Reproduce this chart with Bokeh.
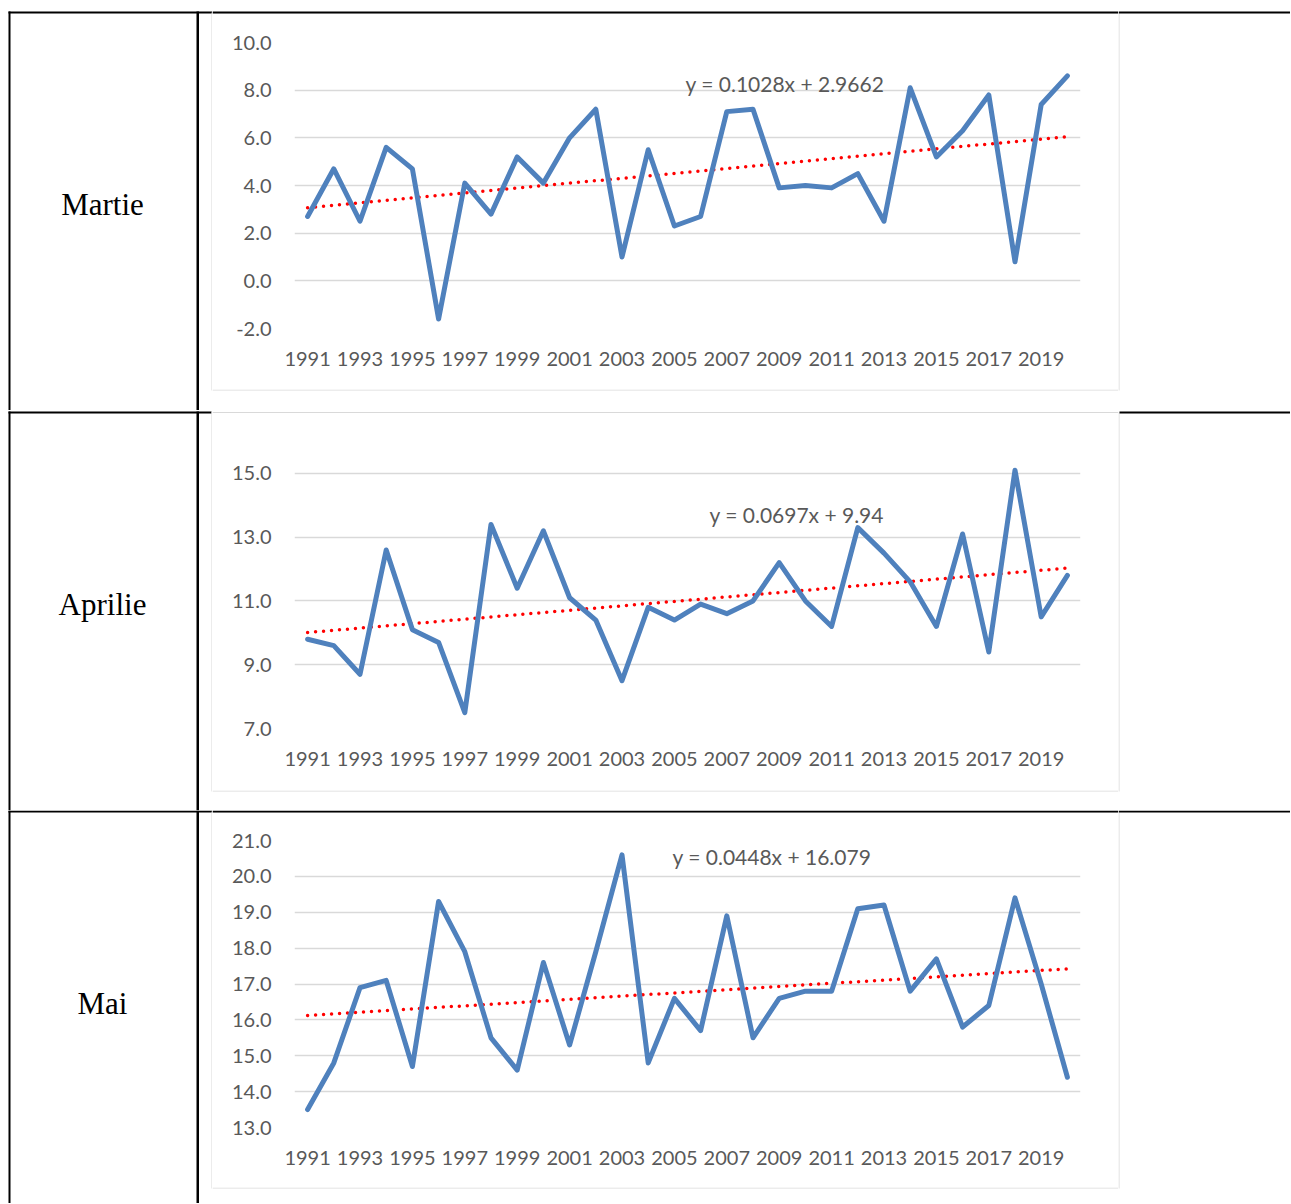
from bokeh.plotting import figure
from bokeh.models import Range1d, FixedTicker, NumeralTickFormatter, Label
from bokeh.layouts import column, row
from bokeh.core.properties import value
from bokeh.embed import file_html
from bokeh.resources import INLINE

# ---------------- data ----------------
years = list(range(1991, 2021))
year_ticks = years[::2]

months = ["Martie", "Aprilie", "Mai"]

martie = [2.7, 4.7, 2.5, 5.6, 4.7, -1.6, 4.1, 2.8, 5.2, 4.1,
          6.0, 7.2, 1.0, 5.5, 2.3, 2.7, 7.1, 7.2, 3.9, 4.0,
          3.9, 4.5, 2.5, 8.1, 5.2, 6.3, 7.8, 0.8, 7.4, 8.6]
aprilie = [9.8, 9.6, 8.7, 12.6, 10.1, 9.7, 7.5, 13.4, 11.4, 13.2,
           11.1, 10.4, 8.5, 10.8, 10.4, 10.9, 10.6, 11.0, 12.2, 11.0,
           10.2, 13.3, 12.5, 11.6, 10.2, 13.1, 9.4, 15.1, 10.5, 11.8]
mai = [13.5, 14.8, 16.9, 17.1, 14.7, 19.3, 17.9, 15.5, 14.6, 17.6,
       15.3, 17.9, 20.6, 14.8, 16.6, 15.7, 18.9, 15.5, 16.6, 16.8,
       16.8, 19.1, 19.2, 16.8, 17.7, 15.8, 16.4, 19.4, 17.0, 14.4]

slopes = [0.1028, 0.0697, 0.0448]
intercepts = [2.9662, 9.94, 16.079]
equations = ["y = 0.1028x + 2.9662", "y = 0.0697x + 9.94", "y = 0.0448x + 16.079"]

y_ticks_martie = [-2, 0, 2, 4, 6, 8, 10]
y_ticks_aprilie = [7, 9, 11, 13, 15]
y_ticks_mai = [13, 14, 15, 16, 17, 18, 19, 20, 21]
y_limits = [(-2, 10), (7, 16), (13, 21)]

series = [martie, aprilie, mai]
y_ticks = [y_ticks_martie, y_ticks_aprilie, y_ticks_mai]

# ---------------- layout (page pixel coordinates) ----------------
W = 1290
LEFT_W = 212            # table label column + left edge of chart box
MID_X0, MID_X1 = 212, 1118
FX0, FX1 = 294, 1080    # plot area
rows = [
    dict(top=0, bottom=410, ctop=25, cbot=389, ftop=42, fbot=328, btop=12, bbot=390,
         lab=204, eqx=685, eqy=82.5, ly=11, cover=False),
    dict(top=410, bottom=810, ctop=425, cbot=790, ftop=441, fbot=728, btop=411.5, bbot=791,
         lab=603.5, eqx=709, eqy=514.3, ly=411, cover=True),
    dict(top=810, bottom=1203, ctop=825, cbot=1187, ftop=840, fbot=1127, btop=811, bbot=1188,
         lab=1003, eqx=672, eqy=856.3, ly=810, cover=False),
]
TABLE_X0 = 8
LEFT_LINE = (8, 10)
DIV_LINE = (196, 198.5)

BLUE = "#4F81BD"
RED = "#FF0000"
GRID = "#D9D9D9"
TXT = "#595959"
FONT = "Lato"


def deco(x0, x1, y0, y1):
    """A figure whose frame is its whole canvas, in page pixel coordinates (y down)."""
    f = figure(width=x1 - x0, height=y1 - y0, output_backend="svg", toolbar_location=None,
               x_range=Range1d(x0, x1), y_range=Range1d(y1, y0),
               x_axis_type=None, y_axis_type=None, frame_align=False,
               min_border=0, min_border_left=0, min_border_right=0, min_border_top=0, min_border_bottom=0,
               outline_line_color=None, border_fill_color="white", background_fill_color="white")
    f.grid.visible = False
    return f


def bar(f, x0, x1, y0, y1, color):
    f.quad(left=[x0], right=[x1], top=[y0], bottom=[y1], fill_color=color, line_color=None)


rows_layout = []
for k in range(3):
    r = rows[k]

    # ---- left cell: table borders, month name, left edge of chart box
    left = deco(0, LEFT_W, r["top"], r["bottom"])
    bar(left, TABLE_X0, 211 if r["cover"] else LEFT_W, r["ly"], r["ly"] + 2, "black")
    bar(left, LEFT_LINE[0], LEFT_LINE[1], r["ly"], r["bottom"], "black")
    bar(left, DIV_LINE[0], DIV_LINE[1], r["ly"], r["bottom"], "black")
    bar(left, 211, 212, r["btop"], r["bbot"], GRID)
    left.text(x=[102], y=[r["lab"]], text=[months[k]], text_align="center", text_baseline="alphabetic",
              text_font=value("Liberation Serif"), text_font_size=value("31px"), text_color="black")

    # ---- right part: right edge of chart box, table line continuing
    right = deco(MID_X1, W, r["top"], r["bottom"])
    bar(right, MID_X1, MID_X1 + 1, r["btop"], r["bbot"], GRID)
    bar(right, MID_X1 + 1 if r["cover"] else MID_X1, W, r["ly"], r["ly"] + 2, "black")

    # ---- top strip of chart cell
    top = deco(MID_X0, MID_X1, r["top"], r["ctop"])
    bar(top, MID_X0, MID_X1, r["btop"], r["btop"] + 1, GRID)
    if not r["cover"]:
        bar(top, MID_X0, MID_X1, r["ly"], r["ly"] + 2, "black")

    # ---- bottom strip of chart cell
    bot = deco(MID_X0, MID_X1, r["cbot"], r["bottom"])
    bar(bot, MID_X0, MID_X1, r["bbot"] - 1, r["bbot"], GRID)

    # ---- chart
    lo, hi = y_limits[k]
    p = figure(width=MID_X1 - MID_X0, height=r["cbot"] - r["ctop"], output_backend="svg", toolbar_location=None,
               x_range=Range1d(1990.5, 2020.5), y_range=Range1d(lo, hi), frame_align=False,
               min_border_left=FX0 - MID_X0, min_border_right=MID_X1 - FX1,
               min_border_top=r["ftop"] - r["ctop"], min_border_bottom=r["cbot"] - r["fbot"],
               outline_line_color=None, border_fill_color="white", background_fill_color="white")

    trend = [slopes[k] * (i + 1) + intercepts[k] for i in range(len(years))]
    p.line(years, trend, line_color=RED, line_width=3.5, line_dash="0 8", line_cap="round")
    p.line(years, series[k], line_color=BLUE, line_width=5, line_join="round", line_cap="round")

    p.add_layout(Label(x=r["eqx"] - FX0, y=r["fbot"] - r["eqy"], x_units="screen", y_units="screen",
                       text=equations[k], text_align="left", text_baseline="alphabetic",
                       text_font=FONT, text_font_size="21px", text_color=TXT))

    p.xaxis.ticker = FixedTicker(ticks=year_ticks)
    p.yaxis.ticker = FixedTicker(ticks=y_ticks[k])
    p.yaxis.formatter = NumeralTickFormatter(format="0.0")
    for ax in (p.xaxis[0], p.yaxis[0]):
        ax.axis_line_color = None
        ax.major_tick_line_color = None
        ax.minor_tick_line_color = None
        ax.major_tick_out = 0
        ax.major_tick_in = 0
        ax.minor_tick_out = 0
        ax.minor_tick_in = 0
        ax.major_label_text_font = FONT
        ax.major_label_text_font_size = "20px"
        ax.major_label_text_color = TXT
    p.xaxis.major_label_standoff = 23
    p.yaxis.major_label_standoff = 23
    p.xgrid.grid_line_color = None
    p.ygrid.ticker = FixedTicker(ticks=y_ticks[k])
    p.ygrid.grid_line_color = GRID
    p.ygrid.grid_line_width = 1.3

    mid = column(top, p, bot, spacing=0)
    rows_layout.append(row(left, mid, right, spacing=0))

layout = column(*rows_layout, spacing=0)
open("out.html", "w").write(file_html(layout, INLINE))
